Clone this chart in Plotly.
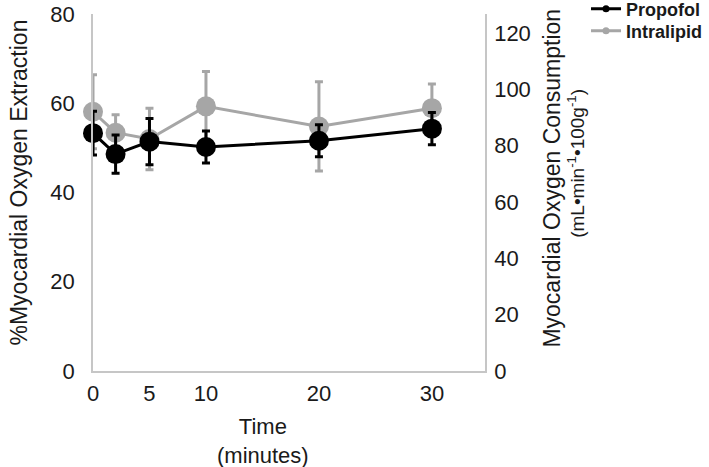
import plotly.graph_objects as go

time_min = [0, 2, 5, 10, 20, 30]
propofol = [53.3, 48.6, 51.4, 50.2, 51.6, 54.3]
propofol_err = [4.9, 4.3, 5.2, 3.6, 3.6, 3.6]
intralipid = [58.1, 53.4, 52.0, 59.3, 54.8, 58.9]
intralipid_err = [8.3, 4.0, 6.9, 7.8, 10.0, 5.4]

x_ticks = [0, 5, 10, 20, 30]
y_ticks = [0, 20, 40, 60, 80]
y2_ticks = [0, 20, 40, 60, 80, 100, 120]

BLACK = "#000000"
GRAY = "#a6a6a6"
AXIS = "#c6c6c6"
TXT = "#1a1a1a"
FONT = "Liberation Sans, Arial, sans-serif"

fig = go.Figure()

fig.add_trace(go.Scatter(
    x=time_min, y=intralipid, mode="lines+markers", showlegend=False,
    line=dict(color=GRAY, width=3),
    marker=dict(color=GRAY, size=20),
    error_y=dict(type="data", array=intralipid_err, color=GRAY, thickness=3, width=4),
    cliponaxis=False,
))
fig.add_trace(go.Scatter(
    x=time_min, y=propofol, mode="lines+markers", showlegend=False,
    line=dict(color=BLACK, width=3),
    marker=dict(color=BLACK, size=20),
    error_y=dict(type="data", array=propofol_err, color=BLACK, thickness=3, width=4),
    cliponaxis=False,
))
# legend entries
fig.add_trace(go.Scatter(
    x=[None], y=[None], mode="lines+markers", name="Propofol", legend="legend",
    line=dict(color=BLACK, width=3), marker=dict(color=BLACK, size=7),
))
fig.add_trace(go.Scatter(
    x=[None], y=[None], mode="lines+markers", name="Intralipid", legend="legend2",
    line=dict(color=GRAY, width=3), marker=dict(color=GRAY, size=7),
))
# secondary axis anchor
fig.add_trace(go.Scatter(x=[None], y=[None], yaxis="y2", showlegend=False, mode="markers"))

legend_style = dict(
    xanchor="left", yanchor="top",
    font=dict(size=18, weight="bold", color=TXT),
    bgcolor="rgba(0,0,0,0)", itemwidth=30,
)

fig.update_layout(
    width=709, height=467,
    margin=dict(l=93, r=224, t=14, b=96, autoexpand=False),
    plot_bgcolor="white", paper_bgcolor="white",
    font=dict(family=FONT, size=22, color=TXT),
    xaxis=dict(
        range=[0, 34.7], tickvals=x_ticks, showgrid=False, zeroline=False,
        showline=True, linecolor=AXIS, linewidth=1.5, ticks="",
        ticklabelstandoff=2, automargin=False,
    ),
    yaxis=dict(
        range=[0, 80], tickvals=y_ticks, showgrid=False, zeroline=False,
        showline=True, linecolor=AXIS, linewidth=1.5, ticks="",
        ticklabelstandoff=12, automargin=False,
    ),
    yaxis2=dict(
        overlaying="y", side="right", range=[0, 126.7], tickvals=y2_ticks,
        showgrid=False, zeroline=False, showline=True, linecolor=AXIS, linewidth=1.5,
        ticks="", ticklabelstandoff=3, automargin=False,
    ),
    legend=dict(x=1.2577, y=1.0655, **legend_style),
    legend2=dict(x=1.2577, y=1.004, **legend_style),
    annotations=[
        dict(text="%Myocardial Oxygen Extraction", xref="paper", yref="paper",
             x=-0.1913, y=0.528, xanchor="center", yanchor="middle",
             textangle=-90, showarrow=False, font=dict(size=23)),
        dict(text="Myocardial Oxygen Consumption", xref="paper", yref="paper",
             x=1.171, y=0.539, xanchor="center", yanchor="middle",
             textangle=-90, showarrow=False, font=dict(size=23)),
        dict(text="(mL\u2022min<sup>-1</sup>\u2022100g<sup>-1</sup>)", xref="paper", yref="paper",
             x=1.232, y=0.583, xanchor="center", yanchor="middle",
             textangle=-90, showarrow=False, font=dict(size=19)),
        dict(text="Time<br>(minutes)", xref="paper", yref="paper",
             x=0.434, y=-0.196, xanchor="center", yanchor="middle",
             showarrow=False, font=dict(size=22)),
    ],
)

fig.write_html("out.html", config={"displayModeBar": False},
               post_script="document.body.style.margin='0px';")
